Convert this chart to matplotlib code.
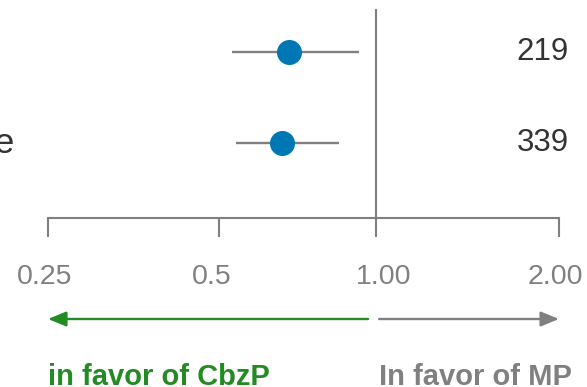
import numpy as np
import matplotlib
matplotlib.use('Agg')
import matplotlib.pyplot as plt

# data
labels = ['Overall', 'Platinum sensitive']
hr = [0.68, 0.66]
ci_lo = [0.53, 0.54]
ci_hi = [0.93, 0.85]
n_pts = ['219', '339']
tick_vals = [0.25, 0.5, 1.0, 2.0]
tick_labels = ['0.25', '0.5', '1.00', '2.00']

plt.rcParams['font.family'] = ['Liberation Sans', 'DejaVu Sans']

GRAY = '#808080'
BLUE = '#0077b5'
GREEN = '#228b22'

W, H = 587, 387
fig = plt.figure(figsize=(W / 100, H / 100), dpi=100)
ax = fig.add_axes([48 / W, (H - 218) / H, 511 / W, 218 / H])

# axis in the reference is log-like but not evenly spaced, map ticks piecewise
tick_px = [0, 171, 327.7, 511]
tick_log = np.log2(tick_vals)


def fwd(v):
    v = np.clip(np.asarray(v, dtype=float), 1e-6, None)
    return np.interp(np.log2(v), tick_log, tick_px)


def inv(p):
    return 2 ** np.interp(p, tick_px, tick_log)


ax.set_xscale('function', functions=(fwd, inv))
ax.set_xlim(0.25, 2.0)
ax.set_ylim(1.818, -0.5695)

y = np.arange(len(hr))
ax.hlines(y, ci_lo, ci_hi, color=GRAY, lw=1.7, zorder=2)
ax.plot(hr, y, 'o', ms=17, color=BLUE, mec=BLUE, zorder=3)
ax.axvline(1.0, ymin=0, ymax=0.956, color=GRAY, lw=1.5, zorder=1)

for sp in ['top', 'left', 'right']:
    ax.spines[sp].set_visible(False)
ax.spines['bottom'].set_color(GRAY)
ax.spines['bottom'].set_linewidth(1.5)
ax.set_yticks([])
ax.set_xticks(tick_vals)
ax.set_xticklabels([])
ax.xaxis.set_minor_locator(matplotlib.ticker.NullLocator())
ax.tick_params(axis='x', direction='out', length=13.4, width=1.5, color=GRAY)

trans = ax.get_xaxis_transform()

# tick labels sit slightly off their ticks in the reference
label_dx = [-2.5, -5, 5.8, -2.5]  # points
for v, t, dx in zip(tick_vals, tick_labels, label_dx):
    ax.annotate(t, xy=(v, 0), xycoords=trans, xytext=(dx, -32.9),
                textcoords='offset points', ha='center', va='top',
                fontsize=20.5, color=GRAY, annotation_clip=False)

# N column
for i, n in enumerate(n_pts):
    ax.text(1.0196, i, n, transform=ax.get_yaxis_transform(), ha='right',
            va='center', fontsize=22.5, color='#333333')

# row labels (mostly cut off on the left)
lab2 = ax.text(-0.066, 1, labels[1], transform=ax.get_yaxis_transform(),
               ha='right', va='center', fontsize=25.5, color='#333333')
fig.canvas.draw()
x0 = lab2.get_window_extent().x0
x0_ax = ax.transAxes.inverted().transform((x0, 0))[0]
ax.text(x0_ax, 0, labels[0], transform=ax.get_yaxis_transform(),
        ha='left', va='center', fontsize=25.5, color='#333333')

# direction arrows and captions
ay = -0.4633
ax.annotate('', xy=(0.25, ay), xytext=(0.967, ay), xycoords=trans,
            arrowprops=dict(arrowstyle='-|>,head_length=1.1,head_width=0.45',
                            color=GREEN, lw=1.7, shrinkA=0, shrinkB=0),
            annotation_clip=False)
ax.annotate('', xy=(2.0, ay), xytext=(1.013, ay), xycoords=trans,
            arrowprops=dict(arrowstyle='-|>,head_length=1.1,head_width=0.45',
                            color=GRAY, lw=1.7, shrinkA=0, shrinkB=0),
            annotation_clip=False)

ty = -0.766
ax.text(0.25, ty, 'in favor of CbzP', transform=trans, ha='left',
        va='baseline', fontsize=21, fontweight='bold', color=GREEN)
ax.annotate('In favor of MP', xy=(1.0, ty), xycoords=trans, xytext=(2.2, 0),
            textcoords='offset points', ha='left', va='baseline',
            fontsize=21, fontweight='bold', color=GRAY, annotation_clip=False)

fig.savefig('out.png', dpi=100)
